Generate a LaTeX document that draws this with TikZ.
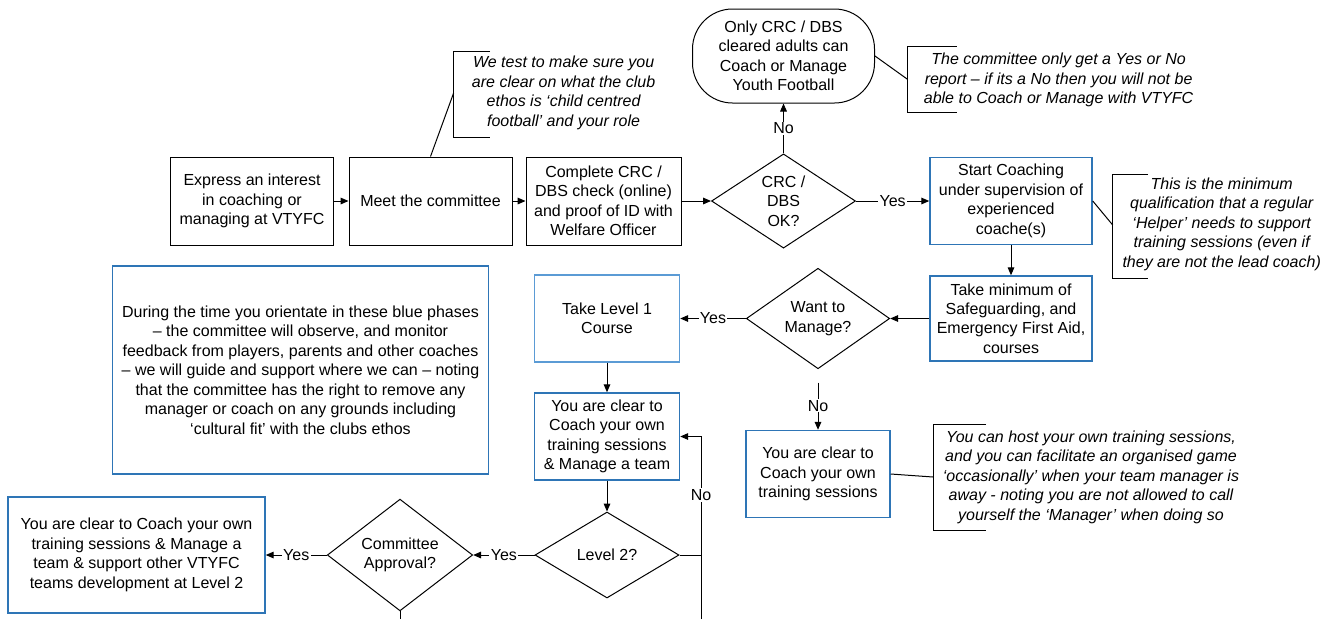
\documentclass[tikz,border=0pt]{standalone}
\usepackage{fontspec}
\setmainfont{Liberation Sans}
\usetikzlibrary{arrows.meta,shapes.geometric}
\definecolor{phaseblue}{RGB}{46,117,182}
\definecolor{paleblue}{RGB}{91,155,213}
\newcommand{\txt}{\fontsize{12pt}{14.6pt}\selectfont}

\begin{document}
\begin{tikzpicture}[x=0.75pt,y=-0.75pt,>={Triangle[length=6pt,width=5pt]},line width=0.75pt]
\tikzstyle{every node}=[font=\txt,align=center]
\tikzstyle{box}=[draw,inner sep=0pt]
\tikzstyle{bluebox}=[draw=phaseblue,line width=1.1pt,inner sep=0pt]
\tikzstyle{decision}=[draw,diamond,inner sep=0pt]
\tikzstyle{note}=[font=\txt\itshape]
\tikzstyle{bracket}=[line width=0.6pt]
\tikzstyle{lbl}=[fill=white,inner sep=1pt]
\useasboundingbox (0,0) rectangle (1333,619);

\node[box,minimum width=122.25pt,minimum height=66pt] (express) at (252,201) {Express an interest\\in coaching or\\managing at VTYFC};
\node[box,minimum width=122.25pt,minimum height=66pt] (meet) at (430.5,201) {Meet the committee};
\node[box,minimum width=116.25pt,minimum height=66pt] (complete) at (603.5,201) {Complete CRC /\\DBS check (online)\\and proof of ID with\\Welfare Officer};
\node[decision,minimum width=108pt,minimum height=66pt] (crc) at (783.5,201) {CRC /\\DBS\\OK?};
\node[box,rounded corners=30pt,minimum width=136.5pt,minimum height=70.5pt] (term) at (783.5,56) {Only CRC / DBS\\cleared adults can\\Coach or Manage\\Youth Football};
\node[bluebox,minimum width=121.5pt,minimum height=65.25pt] (start) at (1011,201) {Start Coaching\\under supervision of\\experienced\\coache(s)};
\node[bluebox,minimum width=121.5pt,minimum height=63.75pt] (safety) at (1011,318.5) {Take minimum of\\Safeguarding, and\\Emergency First Aid,\\courses};
\node[decision,minimum width=107.5pt,minimum height=64.5pt] (manage) at (818,318.5) {Want to\\Manage?};
\node[draw=paleblue,line width=1.1pt,inner sep=0pt,minimum width=108.75pt,minimum height=65.25pt] (level1) at (607,318.5) {Take Level 1\\Course};
\node[bluebox,minimum width=108.75pt,minimum height=65.25pt] (coachmgr) at (607,436.5) {You are clear to\\Coach your own\\training sessions\\\& Manage a team};
\node[decision,minimum width=108pt,minimum height=64.5pt] (level2) at (607,555) {Level 2?};
\node[decision,minimum width=109pt,minimum height=64.5pt] (approval) at (400,555) {Committee\\Approval?};
\node[bluebox,minimum width=192.75pt,minimum height=86.75pt] (level2ok) at (136.5,555) {You are clear to Coach your own\\training sessions \& Manage a\\team \& support other VTYFC\\teams development at Level 2};
\node[bluebox,minimum width=282pt,minimum height=156pt] (orient) at (300.5,370) {During the time you orientate in these blue phases\\– the committee will observe, and monitor\\feedback from players, parents and other coaches\\– we will guide and support where we can – noting\\that the committee has the right to remove any\\manager or coach on any grounds including\\‘cultural fit’ with the clubs ethos};
\node[bluebox,minimum width=108pt,minimum height=65.25pt] (coachown) at (818,474) {You are clear to\\Coach your own\\training sessions};

\node[note] (testnote) at (563.6,93) {We test to make sure you\\are clear on what the club\\ethos is ‘child centred\\football’ and your role};
\node[note] (clearnote) at (1058.6,80) {The committee only get a Yes or No\\report – if its a No then you will not be\\able to Coach or Manage with VTYFC};
\node[note] (helpernote) at (1221.7,224) {This is the minimum\\qualification that a regular\\‘Helper’ needs to support\\training sessions (even if\\they are not the lead coach)};
\node[note] (hostnote) at (1091,477) {You can host your own training sessions,\\and you can facilitate an organised game\\‘occasionally’ when your team manager is\\away - noting you are not allowed to call\\yourself the ‘Manager’ when doing so};

\draw[bracket] (490,51)--(453.6,51)--(453.6,137)--(490,137);
\draw[bracket] (956.8,46)--(907.5,46)--(907.5,112.7)--(956.8,112.7);
\draw[bracket] (1148,174)--(1112.7,174)--(1112.7,278)--(1148,278);
\draw[bracket] (986,424)--(933,424)--(933,530)--(986,530);
\coordinate (testtip) at (453.6,93);
\coordinate (cleartip) at (907.5,79.3);
\coordinate (helpertip) at (1112.7,225);
\coordinate (hosttip) at (933,477);
\draw (meet.north)--(testtip);
\draw (term.east)--(cleartip);
\draw (start.east)--(helpertip);
\draw (coachown.east)--(hosttip);

\draw[->] (express)--(meet);
\draw[->] (meet)--(complete);
\draw[->] (complete)--(crc);
\draw[->] (crc)--node[lbl]{Yes}(start);
\draw[->] (crc)--node[lbl]{No}(term);
\draw[->] (start)--(safety);
\draw[->] (safety)--(manage);
\draw[->] (manage)--node[lbl]{Yes}(level1);
\draw[->,shorten <=10pt] (manage)--node[lbl,pos=0.6]{No}(coachown);
\draw[->] (level1)--(coachmgr);
\draw[->] (coachmgr)--(level2);
\draw[->] (level2)--node[lbl]{Yes}(approval);
\draw[->] (approval)--node[lbl]{Yes}(level2ok);

\coordinate (loopfoot) at (701,619);
\coordinate (apprfoot) at (400,619);
\draw[->] (loopfoot)|-node[lbl,pos=0.34]{No}(coachmgr.east);
\draw (level2.east)--(level2.east -| loopfoot);
\draw (approval.south)--(apprfoot);
\end{tikzpicture}
\end{document}
